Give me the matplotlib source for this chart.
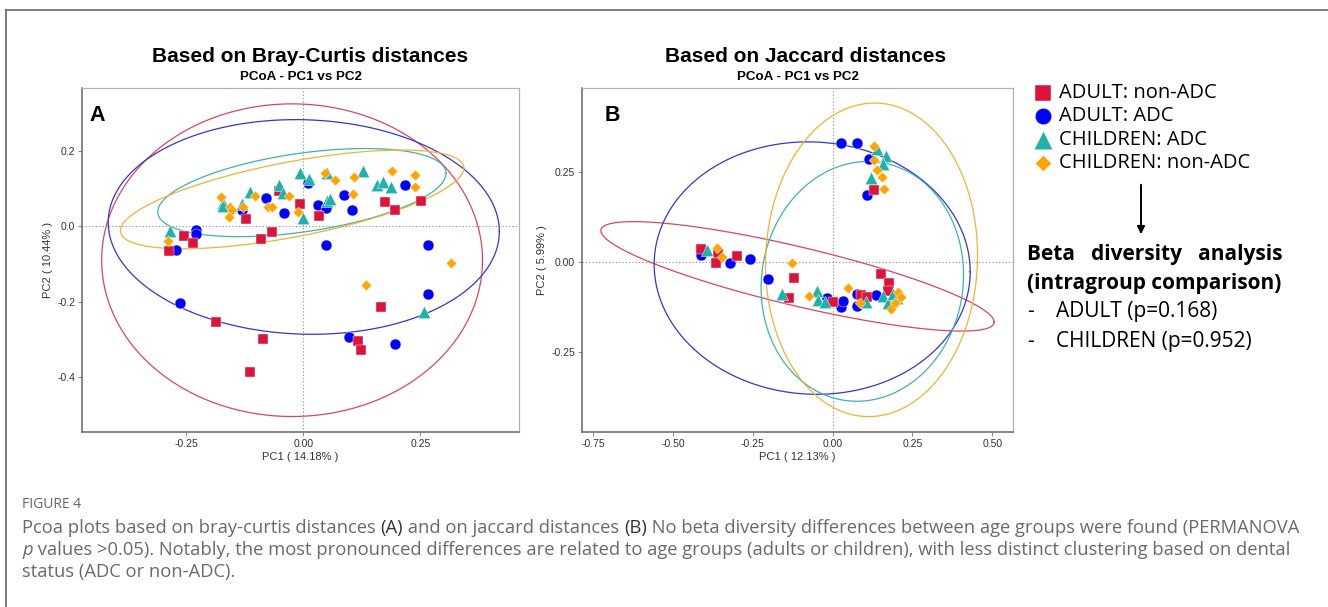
import numpy as np
import matplotlib
matplotlib.use("Agg")
import matplotlib.pyplot as plt
from matplotlib.lines import Line2D
from matplotlib.offsetbox import TextArea, HPacker, AnchoredOffsetbox

W, H = 1328, 607

groups = ["ADULT: non-ADC", "ADULT: ADC", "CHILDREN: ADC", "CHILDREN: non-ADC"]
colors = ["#DC143C", "#0000FF", "#20B2AA", "#FFA500"]
ell_colors = ["#D8456A", "#3535D0", "#3DB5AA", "#F2B233"]
markers = ["s", "o", "^", "D"]
sizes = [52, 62, 80, 30]

# Bray-Curtis PCoA scores
bc_adult_non_pc1 = [-0.053, -0.007, 0.034, -0.123, -0.066, -0.090, 0.174, 0.197, 0.251,
                    -0.256, -0.236, -0.286, 0.166, -0.186, -0.086, 0.116, 0.123, -0.113]
bc_adult_non_pc2 = [0.092, 0.059, 0.027, 0.019, -0.016, -0.033, 0.064, 0.042, 0.067,
                    -0.025, -0.044, -0.066, -0.215, -0.253, -0.298, -0.305, -0.328, -0.386]
bc_adult_adc_pc1 = [-0.130, -0.080, -0.041, 0.011, 0.031, 0.048, 0.088, 0.105, 0.217,
                    -0.230, -0.229, -0.273, 0.048, 0.266, -0.264, 0.266, 0.098, 0.197]
bc_adult_adc_pc2 = [0.044, 0.075, 0.034, 0.114, 0.056, 0.047, 0.083, 0.044, 0.109,
                    -0.011, -0.020, -0.063, -0.049, -0.050, -0.204, -0.180, -0.293, -0.313]
bc_child_adc_pc1 = [-0.007, 0.012, 0.051, 0.127, -0.053, -0.043, -0.114, -0.171, -0.171,
                    -0.132, 0.050, 0.058, 0.000, 0.158, 0.171, 0.187, -0.285, 0.258]
bc_child_adc_pc2 = [0.140, 0.125, 0.140, 0.145, 0.108, 0.087, 0.091, 0.061, 0.054,
                    0.059, 0.068, 0.072, 0.021, 0.108, 0.117, 0.103, -0.014, -0.226]
bc_child_non_pc1 = [-0.175, -0.157, -0.152, -0.158, -0.129, -0.103, -0.075, -0.067, -0.030, -0.011,
                    0.046, 0.068, 0.108, 0.107, 0.189, 0.239, 0.239, -0.289, 0.316, 0.133]
bc_child_non_pc2 = [0.077, 0.052, 0.042, 0.024, 0.050, 0.079, 0.050, 0.052, 0.079, 0.037,
                    0.142, 0.123, 0.130, 0.085, 0.147, 0.135, 0.104, -0.039, -0.097, -0.155]

# Jaccard PCoA scores
jac_adult_non_pc1 = [0.130, -0.413, -0.359, -0.364, -0.299, -0.121, -0.136, 0.000, 0.089,
                     0.107, 0.152, 0.177, 0.173]
jac_adult_non_pc2 = [0.199, 0.037, 0.024, -0.004, 0.017, -0.045, -0.099, -0.111, -0.092,
                     -0.097, -0.033, -0.059, -0.080]
jac_adult_adc_pc1 = [0.026, 0.077, 0.115, 0.107, -0.411, -0.364, -0.320, -0.259, -0.202,
                     -0.017, 0.026, 0.032, 0.075, 0.075, 0.136]
jac_adult_adc_pc2 = [0.332, 0.330, 0.286, 0.187, 0.020, 0.004, -0.003, 0.007, -0.046,
                     -0.099, -0.125, -0.109, -0.089, -0.123, -0.092]
jac_child_adc_pc1 = [0.140, 0.167, 0.159, 0.119, -0.393, -0.157, -0.048, -0.045, -0.024,
                     0.105, 0.157, 0.175, 0.188, 0.201]
jac_child_adc_pc2 = [0.315, 0.296, 0.273, 0.233, 0.032, -0.090, -0.080, -0.106, -0.112,
                     -0.112, -0.095, -0.115, -0.089, -0.101]
jac_child_non_pc1 = [0.130, 0.130, 0.140, 0.156, 0.162, -0.361, -0.348, -0.126, -0.073,
                     0.049, 0.086, 0.206, 0.214, 0.196, 0.182]
jac_child_non_pc2 = [0.323, 0.283, 0.257, 0.236, 0.204, 0.039, 0.013, -0.004, -0.095,
                     -0.073, -0.115, -0.083, -0.097, -0.115, -0.132]

# ellipse params per group: centre x, centre y, x half-width, y at x-extreme, y spread
bc_ellipses = [(-0.024, -0.090, 0.407, 0.000, 0.414),
               (0.001, -0.002, 0.418, -0.012, 0.284),
               (-0.003, 0.089, 0.308, 0.051, 0.105),
               (-0.024, 0.071, 0.367, 0.083, 0.101)]
jac_ellipses = [(-0.110, -0.040, 0.616, -0.127, 0.084),
                (-0.064, -0.017, 0.495, -0.010, 0.351),
                (0.093, -0.054, 0.317, 0.018, 0.333),
                (0.122, 0.006, 0.332, 0.012, 0.436)]

bc_pts = [(bc_adult_non_pc1, bc_adult_non_pc2), (bc_adult_adc_pc1, bc_adult_adc_pc2),
          (bc_child_adc_pc1, bc_child_adc_pc2), (bc_child_non_pc1, bc_child_non_pc2)]
jac_pts = [(jac_adult_non_pc1, jac_adult_non_pc2), (jac_adult_adc_pc1, jac_adult_adc_pc2),
           (jac_child_adc_pc1, jac_child_adc_pc2), (jac_child_non_pc1, jac_child_non_pc2)]

plt.rcParams["font.family"] = ["Liberation Sans", "DejaVu Sans"]
side_font = ["Open Sans", "DejaVu Sans"]

fig = plt.figure(figsize=(W / 100, H / 100), dpi=100)
fig.patch.set_facecolor("white")


def px(x0, y0, x1, y1):
    return [x0 / W, 1 - y1 / H, (x1 - x0) / W, (y1 - y0) / H]


def draw_panel(ax, pts, ells, xlim, ylim, xticks, xlabels, yticks, ylabels, xlab, ylab, letter, lx):
    t = np.linspace(0, 2 * np.pi, 300)
    for (cx, cy, a, b, c), col in zip(ells, ell_colors):
        ax.plot(cx + a * np.cos(t), cy + b * np.cos(t) + c * np.sin(t), color=col, lw=0.9, zorder=2)
    ax.axhline(0, color="#888888", lw=0.8, ls=(0, (1, 2)), zorder=1)
    ax.axvline(0, color="#888888", lw=0.8, ls=(0, (1, 2)), zorder=1)
    order = [1, 0, 2, 3]
    handles = [None] * 4
    for i in order:
        x, y = pts[i]
        handles[i] = ax.scatter(x, y, s=sizes[i], marker=markers[i], color=colors[i],
                                edgecolors="white", linewidths=0.3, zorder=3, label=groups[i])
    ax.set_xlim(*xlim)
    ax.set_ylim(*ylim)
    ax.set_xticks(xticks)
    ax.set_xticklabels(xlabels)
    ax.set_yticks(yticks)
    ax.set_yticklabels(ylabels)
    ax.tick_params(labelsize=7.5, labelcolor="#333333", color="#777777", length=3, width=0.6, pad=2)
    ax.set_xlabel(xlab, fontsize=8, color="#333333", labelpad=2)
    ax.set_ylabel(ylab, fontsize=8, color="#333333", labelpad=3)
    for s in ["left", "bottom"]:
        ax.spines[s].set_color("#666666")
        ax.spines[s].set_linewidth(1.1)
    for s in ["top", "right"]:
        ax.spines[s].set_color("#b0b0b0")
        ax.spines[s].set_linewidth(0.9)
    ax.text(lx, 0.92, letter, transform=ax.transAxes, fontsize=15.5, fontweight="bold",
            ha="center", va="center")
    return handles


axA = fig.add_axes(px(82, 88, 519, 432))
handles = draw_panel(axA, bc_pts, bc_ellipses, (-0.473, 0.461), (-0.545, 0.366),
                     [-0.25, 0, 0.25], ["-0.25", "0.00", "0.25"],
                     [-0.4, -0.2, 0.0, 0.2], ["-0.4", "-0.2", "0.0", "0.2"],
                     "PC1 ( 14.18% )", "PC2 ( 10.44% )", "A", 0.034)

axB = fig.add_axes(px(582, 88, 1013, 432))
draw_panel(axB, jac_pts, jac_ellipses, (-0.785, 0.565), (-0.473, 0.484),
           [-0.75, -0.5, -0.25, 0, 0.25, 0.5], ["-0.75", "-0.50", "-0.25", "0.00", "0.25", "0.50"],
           [-0.25, 0.0, 0.25], ["-0.25", "0.00", "0.25"],
           "PC1 ( 12.13% )", "PC2 ( 5.99% )", "B", 0.07)

# titles
fig.text(310 / W, 1 - 57 / H, "Based on Bray-Curtis distances", fontsize=15, fontweight="bold",
         ha="center", va="center")
fig.text(301 / W, 1 - 77 / H, "PCoA - PC1 vs PC2", fontsize=9.6, fontweight="bold",
         ha="center", va="center")
fig.text(806 / W, 1 - 57 / H, "Based on Jaccard distances", fontsize=15, fontweight="bold",
         ha="center", va="center")
fig.text(798 / W, 1 - 77 / H, "PCoA - PC1 vs PC2", fontsize=9.6, fontweight="bold",
         ha="center", va="center")

# legend
fig.legend(handles=handles, labels=groups, loc="upper left",
           bbox_to_anchor=(1035 / W, 1 - 83 / H), frameon=False,
           prop=dict(family=side_font, size=14.5), markerscale=1.5, handlelength=0.8,
           handletextpad=0.4, labelspacing=0.17, borderpad=0, borderaxespad=0)

fig.add_artist(plt.Annotation("", xy=(1141 / W, 1 - 237 / H), xytext=(1141 / W, 1 - 182 / H),
                              xycoords="figure fraction", textcoords="figure fraction",
                              arrowprops=dict(arrowstyle="-|>", color="black", lw=1.4,
                                              mutation_scale=11)))

fig.text(1027 / W, 1 - 255 / H, "Beta   diversity   analysis", fontsize=15, fontweight="bold",
         family=side_font, ha="left", va="center")
fig.text(1027 / W, 1 - 283 / H, "(intragroup comparison)", fontsize=15, fontweight="bold",
         family=side_font, ha="left", va="center")
fig.text(1027 / W, 1 - 312 / H, "-", fontsize=15, family=side_font, ha="left", va="center")
fig.text(1056 / W, 1 - 312 / H, "ADULT (p=0.168)", fontsize=15, family=side_font,
         ha="left", va="center")
fig.text(1027 / W, 1 - 341 / H, "-", fontsize=15, family=side_font, ha="left", va="center")
fig.text(1056 / W, 1 - 341 / H, "CHILDREN (p=0.952)", fontsize=15, family=side_font,
         ha="left", va="center")

# frame lines of the figure box
fig.add_artist(Line2D([6 / W, 1], [1 - 10 / H, 1 - 10 / H], color="#666666", lw=1.2))
fig.add_artist(Line2D([6 / W, 6 / W], [0, 1 - 10 / H], color="#666666", lw=1.2))

# caption
cap_family = ["Open Sans", "DejaVu Sans"]
cap_font = dict(family=cap_family, size=13.2, color="#6a6a6a")
dark_font = dict(family=cap_family, size=13.2, color="#333333")
fig.text(22 / W, 1 - 505 / H, "FIGURE 4", fontsize=10, family=cap_family,
         color="#666666", ha="left", va="center")

line1 = HPacker(children=[
    TextArea("Pcoa plots based on bray-curtis distances ", textprops=cap_font),
    TextArea("(A)", textprops=dark_font),
    TextArea(" and on jaccard distances ", textprops=cap_font),
    TextArea("(B)", textprops=dark_font),
    TextArea(" No beta diversity differences between age groups were found (PERMANOVA",
             textprops=cap_font)], sep=0, pad=0, align="baseline")
line2 = HPacker(children=[
    TextArea("p", textprops=dict(cap_font, style="italic")),
    TextArea(" values >0.05). Notably, the most pronounced differences are related to age groups "
             "(adults or children), with less distinct clustering based on dental",
             textprops=cap_font)], sep=0, pad=0, align="baseline")
line3 = TextArea("status (ADC or non-ADC).", textprops=cap_font)

for box, yy in [(line1, 528), (line2, 550), (line3, 572)]:
    anc = AnchoredOffsetbox(loc="center left", child=box, pad=0, borderpad=0, frameon=False,
                            bbox_to_anchor=(22 / W, 1 - yy / H),
                            bbox_transform=fig.transFigure)
    fig.add_artist(anc)

fig.savefig("out.png", dpi=100, facecolor="white")
